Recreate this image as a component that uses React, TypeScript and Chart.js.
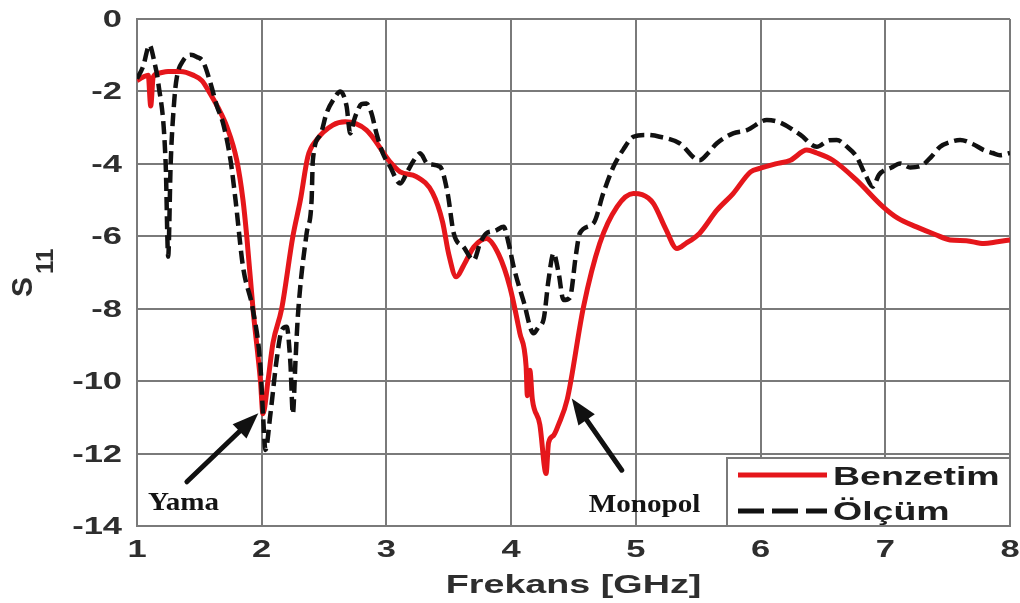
import React, { useEffect, useRef } from 'react';
import { Chart, registerables } from 'chart.js';

Chart.register(...registerables);

// ---------- data ----------
const benzetimFreq = [
  1.0, 1.05, 1.09, 1.11, 1.13, 1.17, 1.25, 1.35, 1.45, 1.52, 1.585, 1.65, 1.72, 1.8, 1.85, 1.88, 1.93, 1.99, 2.01,
  2.05, 2.09, 2.16, 2.25, 2.31, 2.37, 2.44, 2.57, 2.67, 2.84, 3.03, 3.11, 3.24, 3.37, 3.45, 3.5, 3.56, 3.62, 3.7,
  3.8, 3.9, 3.99, 4.07, 4.12, 4.13, 4.15, 4.17, 4.23, 4.28, 4.3, 4.34, 4.38, 4.45, 4.58, 4.71, 4.85, 4.98, 5.05,
  5.14, 5.24, 5.33, 5.4, 5.51, 5.65, 5.78, 5.92, 6.0, 6.12, 6.24, 6.37, 6.45, 6.58, 6.77, 6.98, 7.1, 7.25, 7.4,
  7.52, 7.65, 7.79, 7.9, 8.0,
];
const benzetimS11 = [
  -1.7, -1.6, -1.55, -2.4, -1.6, -1.5, -1.45, -1.45, -1.55, -1.7, -2.05, -2.45, -2.97, -3.9, -5.0, -6.0, -8.0, -10.0, -10.9,
  -10.0, -8.95, -8.0, -6.0, -5.0, -3.8, -3.34, -2.93, -2.84, -3.07, -3.95, -4.22, -4.35, -4.8, -5.6, -6.5, -7.12, -6.8, -6.3,
  -6.06, -6.5, -7.4, -8.68, -9.6, -10.4, -9.7, -10.5, -11.2, -12.55, -11.7, -11.5, -11.2, -10.5, -7.95, -6.2, -5.18, -4.82, -4.85,
  -5.09, -5.8, -6.34, -6.2, -5.92, -5.28, -4.82, -4.22, -4.12, -4.0, -3.9, -3.62, -3.7, -3.9, -4.45, -5.18, -5.5, -5.74, -5.95,
  -6.1, -6.12, -6.2, -6.15, -6.1,
];

const olcumFreq = [
  1.0, 1.05, 1.1, 1.14, 1.17, 1.23, 1.25, 1.27, 1.3, 1.32, 1.37, 1.43, 1.48, 1.53, 1.59, 1.64, 1.69, 1.75, 1.79, 1.85,
  1.93, 1.99, 2.01, 2.03, 2.07, 2.12, 2.16, 2.2, 2.23, 2.25, 2.27, 2.29, 2.36, 2.4, 2.41, 2.47, 2.52, 2.58, 2.63, 2.68,
  2.71, 2.74, 2.76, 2.8, 2.84, 2.88, 2.92, 2.97, 3.03, 3.11, 3.17, 3.22, 3.27, 3.33, 3.43, 3.49, 3.54, 3.62, 3.7, 3.75,
  3.8, 3.87, 3.94, 3.98, 4.02, 4.1, 4.18, 4.22, 4.26, 4.3, 4.34, 4.38, 4.42, 4.47, 4.52, 4.55, 4.66, 4.74, 4.82, 4.9,
  4.98, 5.08, 5.19, 5.35, 5.51, 5.58, 5.65, 5.78, 5.89, 6.05, 6.15, 6.32, 6.45, 6.55, 6.61, 6.7, 6.77, 6.84, 6.9, 6.95,
  7.05, 7.12, 7.2, 7.3, 7.37, 7.44, 7.52, 7.6, 7.7, 7.79, 7.86, 7.92, 8.0,
];
const olcumS11 = [
  -1.65, -1.3, -0.72, -1.2, -1.75, -4.0, -6.56, -4.0, -2.2, -1.6, -1.15, -0.99, -1.05, -1.18, -1.78, -2.4, -2.88, -3.9, -5.0, -6.84,
  -8.04, -9.6, -10.9, -11.9, -10.9, -9.4, -8.6, -8.5, -9.5, -10.9, -9.5, -8.2, -5.92, -5.0, -3.9, -3.2, -2.6, -2.2, -2.0, -2.4,
  -3.16, -2.8, -2.6, -2.35, -2.33, -2.6, -3.16, -3.7, -4.08, -4.54, -4.2, -3.9, -3.71, -4.0, -4.08, -4.8, -5.92, -6.3, -6.66, -6.2,
  -5.92, -5.85, -5.74, -6.2, -6.84, -7.8, -8.68, -8.5, -8.3, -7.2, -6.47, -7.0, -7.76, -7.7, -6.5, -5.92, -5.64, -4.8, -4.08, -3.6,
  -3.25, -3.2, -3.25, -3.43, -3.9, -3.7, -3.43, -3.16, -3.07, -2.79, -2.85, -3.2, -3.53, -3.35, -3.34, -3.55, -3.8, -4.3, -4.63, -4.3,
  -4.1, -3.99, -4.1, -4.03, -3.8, -3.53, -3.4, -3.34, -3.45, -3.62, -3.7, -3.76, -3.7,
];

const seriesNames = ['Benzetim', 'Ölçüm'];
const xTickValues = [1, 2, 3, 4, 5, 6, 7, 8];
const xTickLabels = ['1', '2', '3', '4', '5', '6', '7', '8'];
const yTickValues = [0, -2, -4, -6, -8, -10, -12, -14];
const yTickLabels = ['0', '-2', '-4', '-6', '-8', '-10', '-12', '-14'];
const xAxisTitle = 'Frekans [GHz]';
const yAxisTitleMain = 'S';
const yAxisTitleSub = '11';

const annotationTexts = ['Yama', 'Monopol'];
const annotationTextFreq = [1.373, 5.07];
const annotationTextS11 = [-13.56, -13.62];
const arrowTailFreq = [1.4, 4.887];
const arrowTailS11 = [-12.78, -12.46];
const arrowTipFreq = [1.973, 4.486];
const arrowTipS11 = [-10.89, -10.48];

const RED = '#e5161b';
const BLACK = '#111111';
const GRID = '#7a7a7a';
const TEXT = '#2e2e2e';
const SANS = '"Liberation Sans", Arial, sans-serif';
const SERIF = '"Liberation Serif", "Times New Roman", serif';

function stretchedText(
  ctx: CanvasRenderingContext2D,
  text: string,
  x: number,
  y: number,
  font: string,
  sx: number,
  align: 'left' | 'center' | 'right',
  color: string
) {
  ctx.save();
  ctx.font = font;
  ctx.fillStyle = color;
  ctx.textBaseline = 'alphabetic';
  ctx.textAlign = 'left';
  const w = ctx.measureText(text).width * sx;
  const left = align === 'left' ? x : align === 'center' ? x - w / 2 : x - w;
  ctx.translate(left, y);
  ctx.scale(sx, 1);
  ctx.fillText(text, 0, 0);
  ctx.restore();
}

const overlayPlugin = {
  id: 'overlay',
  afterDatasetsDraw(chart: any) {
    const { ctx, chartArea: ca, scales } = chart;
    const xs = scales.x;
    const ys = scales.y;

    // arrows
    ctx.save();
    for (let i = 0; i < arrowTailFreq.length; i++) {
      const x0 = xs.getPixelForValue(arrowTailFreq[i]);
      const y0 = ys.getPixelForValue(arrowTailS11[i]);
      const x1 = xs.getPixelForValue(arrowTipFreq[i]);
      const y1 = ys.getPixelForValue(arrowTipS11[i]);
      const ang = Math.atan2(y1 - y0, x1 - x0);
      const headLen = 26;
      const headHalf = 10;
      ctx.strokeStyle = BLACK;
      ctx.fillStyle = BLACK;
      ctx.lineWidth = 5;
      ctx.lineCap = 'round';
      ctx.beginPath();
      ctx.moveTo(x0, y0);
      ctx.lineTo(x1 - Math.cos(ang) * headLen * 0.8, y1 - Math.sin(ang) * headLen * 0.8);
      ctx.stroke();
      const bx = x1 - Math.cos(ang) * headLen;
      const by = y1 - Math.sin(ang) * headLen;
      ctx.beginPath();
      ctx.moveTo(x1, y1);
      ctx.lineTo(bx + Math.sin(ang) * headHalf, by - Math.cos(ang) * headHalf);
      ctx.lineTo(bx - Math.sin(ang) * headHalf, by + Math.cos(ang) * headHalf);
      ctx.closePath();
      ctx.fill();
    }
    ctx.restore();

    // annotation texts
    for (let i = 0; i < annotationTexts.length; i++) {
      stretchedText(
        ctx,
        annotationTexts[i],
        xs.getPixelForValue(annotationTextFreq[i]),
        ys.getPixelForValue(annotationTextS11[i]),
        `bold 26px ${SERIF}`,
        1.12,
        'center',
        '#141414'
      );
    }

    // legend box
    const lgW = 283;
    const lgH = 68;
    const lgL = ca.right - lgW;
    const lgT = ca.bottom - lgH;
    ctx.save();
    ctx.fillStyle = '#ffffff';
    ctx.fillRect(lgL, lgT, lgW, lgH);
    ctx.strokeStyle = GRID;
    ctx.lineWidth = 2;
    ctx.strokeRect(lgL, lgT, lgW, lgH);
    ctx.strokeStyle = RED;
    ctx.lineWidth = 5;
    ctx.beginPath();
    ctx.moveTo(lgL + 11, lgT + 17);
    ctx.lineTo(lgL + 100, lgT + 17);
    ctx.stroke();
    ctx.strokeStyle = BLACK;
    ctx.lineWidth = 5;
    ctx.setLineDash([26, 8]);
    ctx.beginPath();
    ctx.moveTo(lgL + 11, lgT + 53);
    ctx.lineTo(lgL + 100, lgT + 53);
    ctx.stroke();
    ctx.setLineDash([]);
    ctx.restore();
    stretchedText(ctx, seriesNames[0], lgL + 106, lgT + 27, `bold 25px ${SANS}`, 1.5, 'left', '#1e1e1e');
    stretchedText(ctx, seriesNames[1], lgL + 106, lgT + 62, `bold 25px ${SANS}`, 1.5, 'left', '#1e1e1e');

    // tick labels
    for (let i = 0; i < yTickValues.length; i++) {
      const py = ys.getPixelForValue(yTickValues[i]);
      stretchedText(ctx, yTickLabels[i], ca.left - 15, py + 8, `bold 23px ${SANS}`, 1.5, 'right', TEXT);
    }
    for (let i = 0; i < xTickValues.length; i++) {
      const px = xs.getPixelForValue(xTickValues[i]);
      stretchedText(ctx, xTickLabels[i], px, ca.bottom + 31, `bold 23px ${SANS}`, 1.5, 'center', TEXT);
    }

    // x title
    stretchedText(ctx, xAxisTitle, (ca.left + ca.right) / 2, ca.bottom + 67, `bold 26px ${SANS}`, 1.45, 'center', TEXT);

    // y title (rotated)
    ctx.save();
    ctx.translate(32, 297);
    ctx.rotate(-Math.PI / 2);
    ctx.fillStyle = TEXT;
    ctx.textBaseline = 'alphabetic';
    ctx.textAlign = 'left';
    ctx.font = `bold 30px ${SANS}`;
    ctx.fillText(yAxisTitleMain, 0, 0);
    ctx.font = `bold 24px ${SANS}`;
    ctx.fillText(yAxisTitleSub, 23, 21);
    ctx.restore();
  },
};

export default function App() {
  const canvasRef = useRef<HTMLCanvasElement | null>(null);

  useEffect(() => {
    const canvas = canvasRef.current;
    if (!canvas) return;
    const chart = new Chart(canvas, {
      type: 'line',
      data: {
        datasets: [
          {
            label: seriesNames[0],
            data: benzetimFreq.map((f, i) => ({ x: f, y: benzetimS11[i] })),
            borderColor: RED,
            backgroundColor: RED,
            borderWidth: 5,
            pointRadius: 0,
            cubicInterpolationMode: 'monotone',
            order: 2,
          },
          {
            label: seriesNames[1],
            data: olcumFreq.map((f, i) => ({ x: f, y: olcumS11[i] })),
            borderColor: BLACK,
            backgroundColor: BLACK,
            borderWidth: 4.5,
            borderDash: [13, 6],
            pointRadius: 0,
            cubicInterpolationMode: 'monotone',
            order: 1,
          },
        ],
      },
      options: {
        animation: false,
        responsive: false,
        devicePixelRatio: 1,
        layout: { padding: { left: 0, top: 19, right: 10, bottom: 0 } },
        plugins: {
          legend: { display: false },
          tooltip: { enabled: false },
          title: { display: false },
        },
        scales: {
          x: {
            type: 'linear',
            min: 1,
            max: 8,
            ticks: { stepSize: 1, display: false },
            grid: { color: GRID, lineWidth: 2, drawTicks: false },
            border: { display: true, color: GRID, width: 2 },
            afterFit: (scale: any) => {
              scale.height = 77;
            },
          },
          y: {
            type: 'linear',
            min: -14,
            max: 0,
            ticks: { stepSize: 2, display: false },
            grid: { color: GRID, lineWidth: 2, drawTicks: false },
            border: { display: true, color: GRID, width: 2 },
            afterFit: (scale: any) => {
              scale.width = 137;
            },
          },
        },
      },
      plugins: [overlayPlugin],
    });
    return () => chart.destroy();
  }, []);

  return (
    <div style={{ position: 'absolute', left: 0, top: 0, width: 1020, height: 603, background: '#ffffff' }}>
      <canvas ref={canvasRef} width={1020} height={603} />
    </div>
  );
}
